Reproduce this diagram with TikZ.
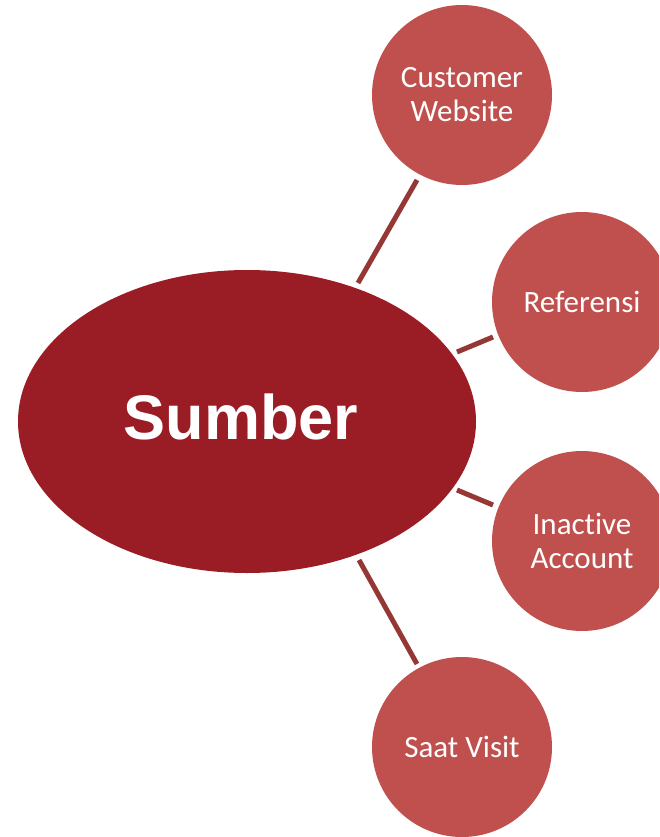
\documentclass[tikz,border=0pt]{standalone}
\usepackage{fontspec}
\setmainfont{Carlito}[Ligatures=NoCommon]
\newfontfamily\headfont{Liberation Sans}
\usetikzlibrary{shapes.geometric}
\definecolor{hubred}{HTML}{9A1C24}
\definecolor{leafred}{HTML}{C0504D}
\definecolor{linkred}{HTML}{953735}
\tikzset{
  hub/.style={ellipse, fill=hubred, minimum width=458pt, minimum height=303pt,
    inner sep=0pt},
  hubtext/.style={inner sep=0pt, text=white,
    font=\headfont\bfseries\fontsize{63}{70}\selectfont},
  leaf/.style={circle, fill=leafred, minimum size=180pt, inner sep=0pt,
    text=white, align=center, font=\fontsize{31}{34}\selectfont},
  link/.style={draw=linkred, line width=5pt}
}
\begin{document}
\begin{tikzpicture}[x=1pt,y=-1pt]
  \useasboundingbox (0,0) rectangle (659,837);
  \clip (0,0) rectangle (659,837);
  % central source ellipse and its title
  \node[hub] (src) at (247,421.5) {};
  \node[hubtext] (srctitle) at (241,417) {Sumber};
  % source categories
  \node[leaf] (web) at (462,95) {Customer\\Website};
  \node[leaf] (ref) at (582,302) {Referensi};
  \node[leaf] (ina) at (582,541) {Inactive\\Account};
  \node[leaf] (vis) at (462,747) {Saat Visit};
  % connector end points, leaving a small gap at both shapes
  \coordinate (webA) at (358,283);  \coordinate (webB) at (417,180);
  \coordinate (refA) at (457,352);  \coordinate (refB) at (493,337);
  \coordinate (inaA) at (457,490);  \coordinate (inaB) at (493,505);
  \coordinate (visA) at (359,560);  \coordinate (visB) at (417,664);
  \draw[link] (webA) -- (webB);
  \draw[link] (refA) -- (refB);
  \draw[link] (inaA) -- (inaB);
  \draw[link] (visA) -- (visB);
\end{tikzpicture}
\end{document}
